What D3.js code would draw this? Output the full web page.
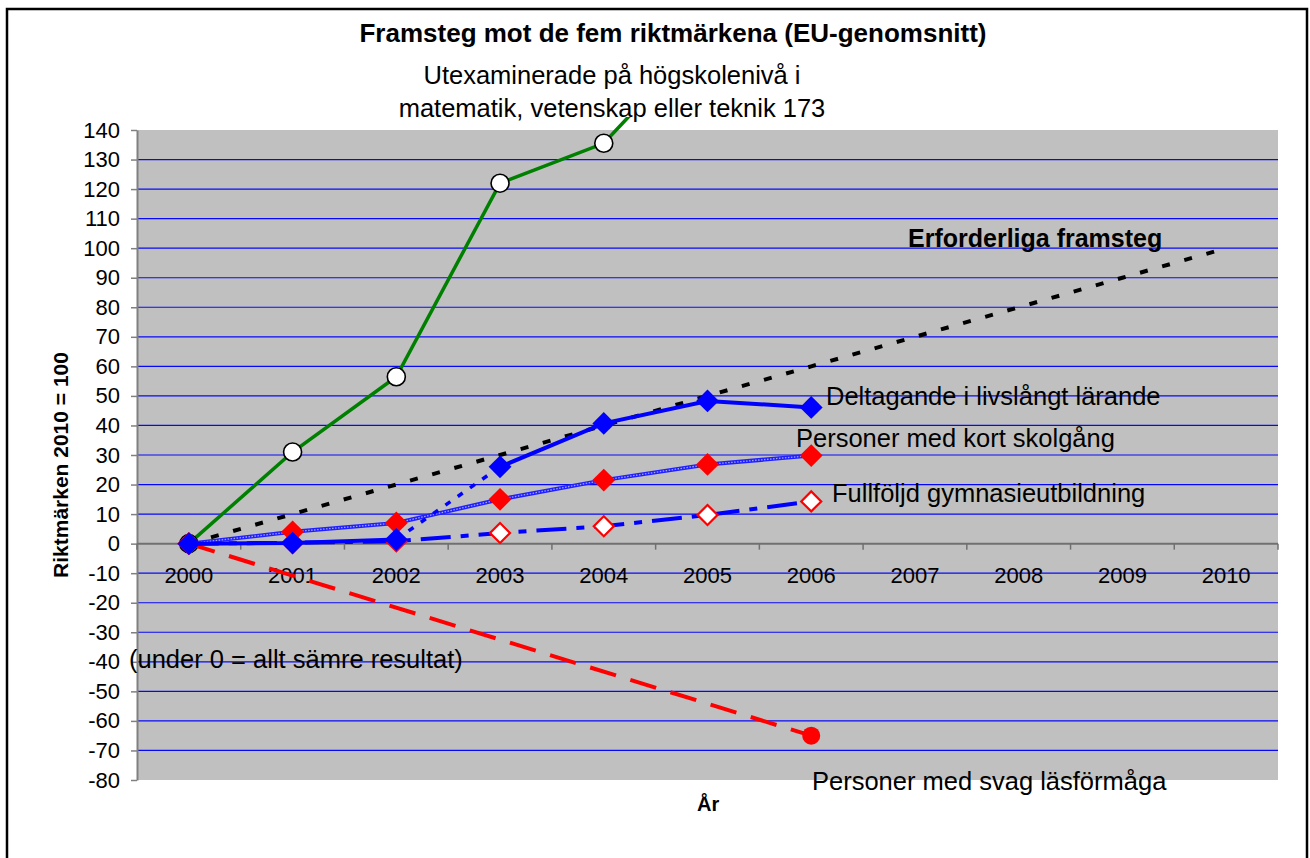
<!DOCTYPE html>
<html>
<head>
<meta charset="utf-8">
<script src="https://cdn.jsdelivr.net/npm/d3@7"></script>
<style>
body{margin:0;background:#fff;}
text{font-family:"Liberation Sans",Arial,sans-serif;fill:#000;}
</style>
</head>
<body>
<svg id="chart" width="1310" height="858"></svg>
<script>
// data
var years = ["2000","2001","2002","2003","2004","2005","2006","2007","2008","2009","2010"];
var yTicks = [-80,-70,-60,-50,-40,-30,-20,-10,0,10,20,30,40,50,60,70,80,90,100,110,120,130,140];

var erforderliga = [0,10,20,30,40,50,60,70,80,90,100];
var utexaminerade = [0,31,56.5,122,135.5,173];
var deltagande = [0,0.2,1.4,26,40.7,48.3,46.1];
var kortSkolgang = [0,4,7,15,21.5,26.8,29.8];
var fullfoljd = [0,0.3,0.8,3.6,5.9,9.7,14.3];
var svagLas = [0,null,null,null,null,null,-65];

var svg = d3.select("#chart");
var pLeft = 137, pRight = 1278, pTop = 130, pBottom = 780;

var x = d3.scaleBand().domain(years).range([pLeft,pRight]);
var y = d3.scaleLinear().domain([-80,140]).range([pBottom,pTop]);
var xc = function(d){ return x(d)+x.bandwidth()/2; };

function pts(arr){
    return arr.map(function(v,i){ return {year:years[i], value:v}; })
              .filter(function(d){ return d.value !== null; });
}
var line = d3.line().x(function(d){ return xc(d.year); }).y(function(d){ return y(d.value); });

// outer frame
svg.append("rect").attr("x",7).attr("y",9).attr("width",1300).attr("height",880)
    .attr("fill","#fff").attr("stroke","#000").attr("stroke-width",2.5);

// plot area
svg.append("rect").attr("x",pLeft).attr("y",pTop).attr("width",pRight-pLeft).attr("height",pBottom-pTop)
    .attr("fill","#c0c0c0");

svg.append("defs").append("clipPath").attr("id","clip")
    .append("rect").attr("x",pLeft).attr("y",117).attr("width",pRight-pLeft).attr("height",pBottom-117);

// gridlines
svg.append("g").selectAll("line")
    .data(yTicks.filter(function(v){ return v!==0 && v>-80 && v<140; }))
    .enter().append("line")
    .attr("x1",pLeft).attr("x2",pRight)
    .attr("y1",function(d){ return y(d); }).attr("y2",function(d){ return y(d); })
    .attr("stroke","#0808f8").attr("stroke-width",1.2);

// y axis
var yAxis = svg.append("g").attr("transform","translate("+pLeft+",0)")
    .call(d3.axisLeft(y).tickValues(yTicks).tickSize(6).tickSizeOuter(0).tickPadding(11)
        .tickFormat(function(d){ return String(d); }));
yAxis.select(".domain").attr("stroke","#808080").attr("stroke-width",2);
yAxis.selectAll(".tick line").attr("stroke","#808080").attr("stroke-width",1.5);
yAxis.selectAll(".tick text").attr("font-size",22).attr("font-family","Liberation Sans, Arial, sans-serif").attr("fill","#000");

// x axis along zero
var y0 = y(0);
svg.append("line").attr("x1",pLeft).attr("x2",pRight).attr("y1",y0).attr("y2",y0)
    .attr("stroke","#707070").attr("stroke-width",2);
svg.append("g").selectAll("line").data(years.map(function(d){ return x(d); }).concat([pRight]))
    .enter().append("line")
    .attr("x1",function(d){ return d; }).attr("x2",function(d){ return d; })
    .attr("y1",y0).attr("y2",y0+6)
    .attr("stroke","#707070").attr("stroke-width",1.5);
svg.append("g").selectAll("text").data(years).enter().append("text")
    .attr("x",xc).attr("y",583).attr("text-anchor","middle").attr("font-size",22)
    .text(function(d){ return d; });

var g = svg.append("g").attr("clip-path","url(#clip)");

// Erforderliga framsteg
g.append("path").attr("d",line(pts(erforderliga))).attr("fill","none")
    .attr("stroke","#000").attr("stroke-width",4).attr("stroke-dasharray","8,15");

// Utexaminerade
g.append("path").attr("d",line(pts(utexaminerade))).attr("fill","none")
    .attr("stroke","#008000").attr("stroke-width",3.5);
g.selectAll("circle.ut").data(pts(utexaminerade).filter(function(d){ return d.value<=140; }))
    .enter().append("circle").attr("class","ut")
    .attr("cx",function(d){ return xc(d.year); }).attr("cy",function(d){ return y(d.value); })
    .attr("r",9).attr("fill","#fff").attr("stroke","#000").attr("stroke-width",1.6);

// svag läsförmåga
var svagPts = pts(svagLas);
g.append("path").attr("d",line(svagPts)).attr("fill","none")
    .attr("stroke","#ff0000").attr("stroke-width",4).attr("stroke-dasharray","27,15");
g.append("circle").datum(svagPts[svagPts.length-1])
    .attr("cx",function(d){ return xc(d.year); }).attr("cy",function(d){ return y(d.value); })
    .attr("r",9).attr("fill","#ff0000");

function diamonds(data, fill, stroke, sw, size){
    g.append("g").selectAll("path").data(data).enter().append("path")
        .attr("d", d3.symbol().type(d3.symbolSquare).size(size)())
        .attr("transform",function(d){ return "translate("+xc(d.year)+","+y(d.value)+") rotate(45)"; })
        .attr("fill",fill).attr("stroke",stroke).attr("stroke-width",sw);
}

// Fullföljd gymnasieutbildning
g.append("path").attr("d",line(pts(fullfoljd))).attr("fill","none")
    .attr("stroke","#0000ff").attr("stroke-width",4).attr("stroke-dasharray","30,10,8,10");
diamonds(pts(fullfoljd),"#fff","#ff0000",2.2,200);

// Personer med kort skolgång
g.append("path").attr("d",line(pts(kortSkolgang))).attr("fill","none")
    .attr("stroke","#2020ff").attr("stroke-width",4);
g.append("path").attr("d",line(pts(kortSkolgang))).attr("fill","none")
    .attr("stroke","#a0a0ff").attr("stroke-width",1.3).attr("stroke-dasharray","1.5,1.5");
diamonds(pts(kortSkolgang),"#ff0000","none",0,260);

// Deltagande i livslångt lärande (break in series 2002-2003)
var dPts = pts(deltagande);
g.append("path").attr("d",line(dPts.slice(0,3))).attr("fill","none")
    .attr("stroke","#0000ff").attr("stroke-width",4);
g.append("path").attr("d",line(dPts.slice(2,4))).attr("fill","none")
    .attr("stroke","#0000ff").attr("stroke-width",3.5).attr("stroke-dasharray","6,9");
g.append("path").attr("d",line(dPts.slice(3))).attr("fill","none")
    .attr("stroke","#0000ff").attr("stroke-width",4);
diamonds(dPts,"#0000ff","none",0,260);

// texts
function label(txt,xp,yp,size,bold,anchor){
    svg.append("text").attr("x",xp).attr("y",yp).attr("font-size",size)
        .attr("font-weight",bold?"bold":"normal").attr("text-anchor",anchor||"start").text(txt);
}
label("Framsteg mot de fem riktmärkena (EU-genomsnitt)",673,42,26,true,"middle");
label("Utexaminerade på högskolenivå i",612,84,25.5,false,"middle");
label("matematik, vetenskap eller teknik 173",612,117,25.5,false,"middle");
label("Erforderliga framsteg",908,247,25,true);
label("Deltagande i livslångt lärande",826,405,25.5,false);
label("Personer med kort skolgång",796,447,25.5,false);
label("Fullföljd gymnasieutbildning",832,502,25.5,false);
label("(under 0 = allt sämre resultat)",129,668,25.5,false);
label("Personer med svag läsförmåga",812,790,25.5,false);
label("År",697,811,20,true);

svg.append("text").attr("transform","translate(68,465) rotate(-90)")
    .attr("text-anchor","middle").attr("font-size",21).attr("font-weight","bold")
    .text("Riktmärken 2010 = 100");
</script>
</body>
</html>
